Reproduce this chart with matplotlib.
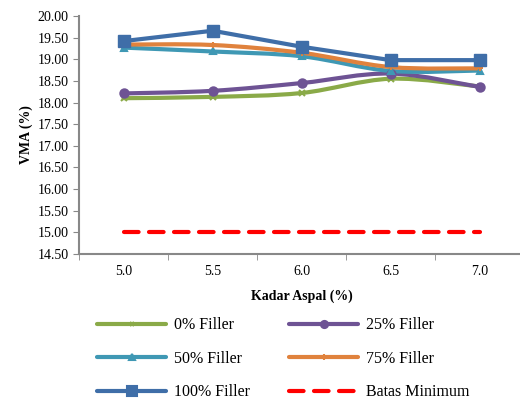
import matplotlib.pyplot as plt
import numpy as np
from matplotlib.path import Path
from matplotlib.patches import PathPatch
from matplotlib.lines import Line2D

plt.rcParams['font.family'] = ['Liberation Serif', 'DejaVu Serif']

kadar_aspal = ["5.0", "5.5", "6.0", "6.5", "7.0"]
filler_0 = [18.10, 18.13, 18.22, 18.55, 18.37]
filler_25 = [18.21, 18.27, 18.45, 18.67, 18.36]
filler_50 = [19.27, 19.18, 19.07, 18.73, 18.74]
filler_75 = [19.34, 19.33, 19.15, 18.82, 18.79]
filler_100 = [19.42, 19.66, 19.29, 18.98, 18.98]
batas_minimum = [15.00, 15.00, 15.00, 15.00, 15.00]

LW = 3.0


def smooth_path(x, y):
    """Bezier through the points, same style as a spreadsheet 'smoothed line'."""
    pts = np.column_stack([x, y]).astype(float)
    ext = np.vstack([pts[0], pts, pts[-1]])
    verts = [pts[0]]
    codes = [Path.MOVETO]
    for i in range(len(pts) - 1):
        p0, p1, p2, p3 = ext[i], ext[i + 1], ext[i + 2], ext[i + 3]
        c1 = p1 + (p2 - p0) / 6.0
        c2 = p2 - (p3 - p1) / 6.0
        verts += [c1, c2, p2]
        codes += [Path.CURVE4] * 3
    return Path(verts, codes)


fig = plt.figure(figsize=(5.2, 4.01), dpi=100)
ax = fig.add_axes([0.152, 0.367, 0.856, 0.593])
x = np.arange(len(kadar_aspal))

series = [
    ("0% Filler", filler_0, "#8AAA48", "x", 4, True),
    ("25% Filler", filler_25, "#6E5394", "o", 6, True),
    ("50% Filler", filler_50, "#3F98B4", "^", 5, True),
    ("75% Filler", filler_75, "#E0823D", "+", 5, True),
    ("100% Filler", filler_100, "#3F6EA8", "s", 8, False),
]

handles = {}
for label, vals, color, marker, ms, smooth in series:
    if smooth:
        ax.add_patch(PathPatch(smooth_path(x, vals), facecolor="none",
                               edgecolor=color, lw=LW, capstyle="round",
                               joinstyle="round"))
        ax.plot(x, vals, linestyle="none", marker=marker, ms=ms, color=color,
                mew=1.5)
    else:
        ax.plot(x, vals, color=color, lw=LW, marker=marker, ms=ms,
                solid_capstyle="round")
    handles[label] = Line2D([], [], color=color, lw=LW, marker=marker,
                            ms=ms * 0.85, mew=1.5, solid_capstyle="round")

ax.plot(x, batas_minimum, color="#FF0000", lw=LW, linestyle=(0, (3.5, 2.5)),
        dash_capstyle="round")
handles["Batas Minimum"] = Line2D([], [], color="#FF0000", lw=LW,
                                  linestyle=(0, (3.5, 2.5)), dash_capstyle="round")

ax.set_xlim(-0.5, 4.5)
ax.set_ylim(14.5, 20.0)
ax.set_yticks(np.arange(14.5, 20.01, 0.5))
ax.set_yticklabels([f"{v:.2f}" for v in np.arange(14.5, 20.01, 0.5)])
ax.set_xticks(x)
ax.set_xticklabels(kadar_aspal)
ax.set_xticks(np.arange(-0.5, 4.6, 1.0), minor=True)
ax.tick_params(axis="x", which="major", length=0, pad=8, labelsize=10)
ax.tick_params(axis="x", which="minor", length=4, color="#888888")
ax.tick_params(axis="y", length=4, color="#888888", labelsize=10)
for side in ("top", "right"):
    ax.spines[side].set_visible(False)
for side in ("left", "bottom"):
    ax.spines[side].set_color("#888888")
    ax.spines[side].set_linewidth(1.5)

ax.set_xlabel("Kadar Aspal (%)", fontweight="bold", fontsize=10, labelpad=8)
ax.set_ylabel("VMA (%)", fontweight="bold", fontsize=10, labelpad=3)

order = ["0% Filler", "50% Filler", "100% Filler",
         "25% Filler", "75% Filler", "Batas Minimum"]
fig.legend([handles[k] for k in order], order, ncol=2, frameon=False,
           loc="center", bbox_to_anchor=(0.545, 0.105), fontsize=11.5,
           handlelength=4.3, labelspacing=1.1, columnspacing=2.45,
           handletextpad=0.5)

fig.savefig("out.png", dpi=100)
